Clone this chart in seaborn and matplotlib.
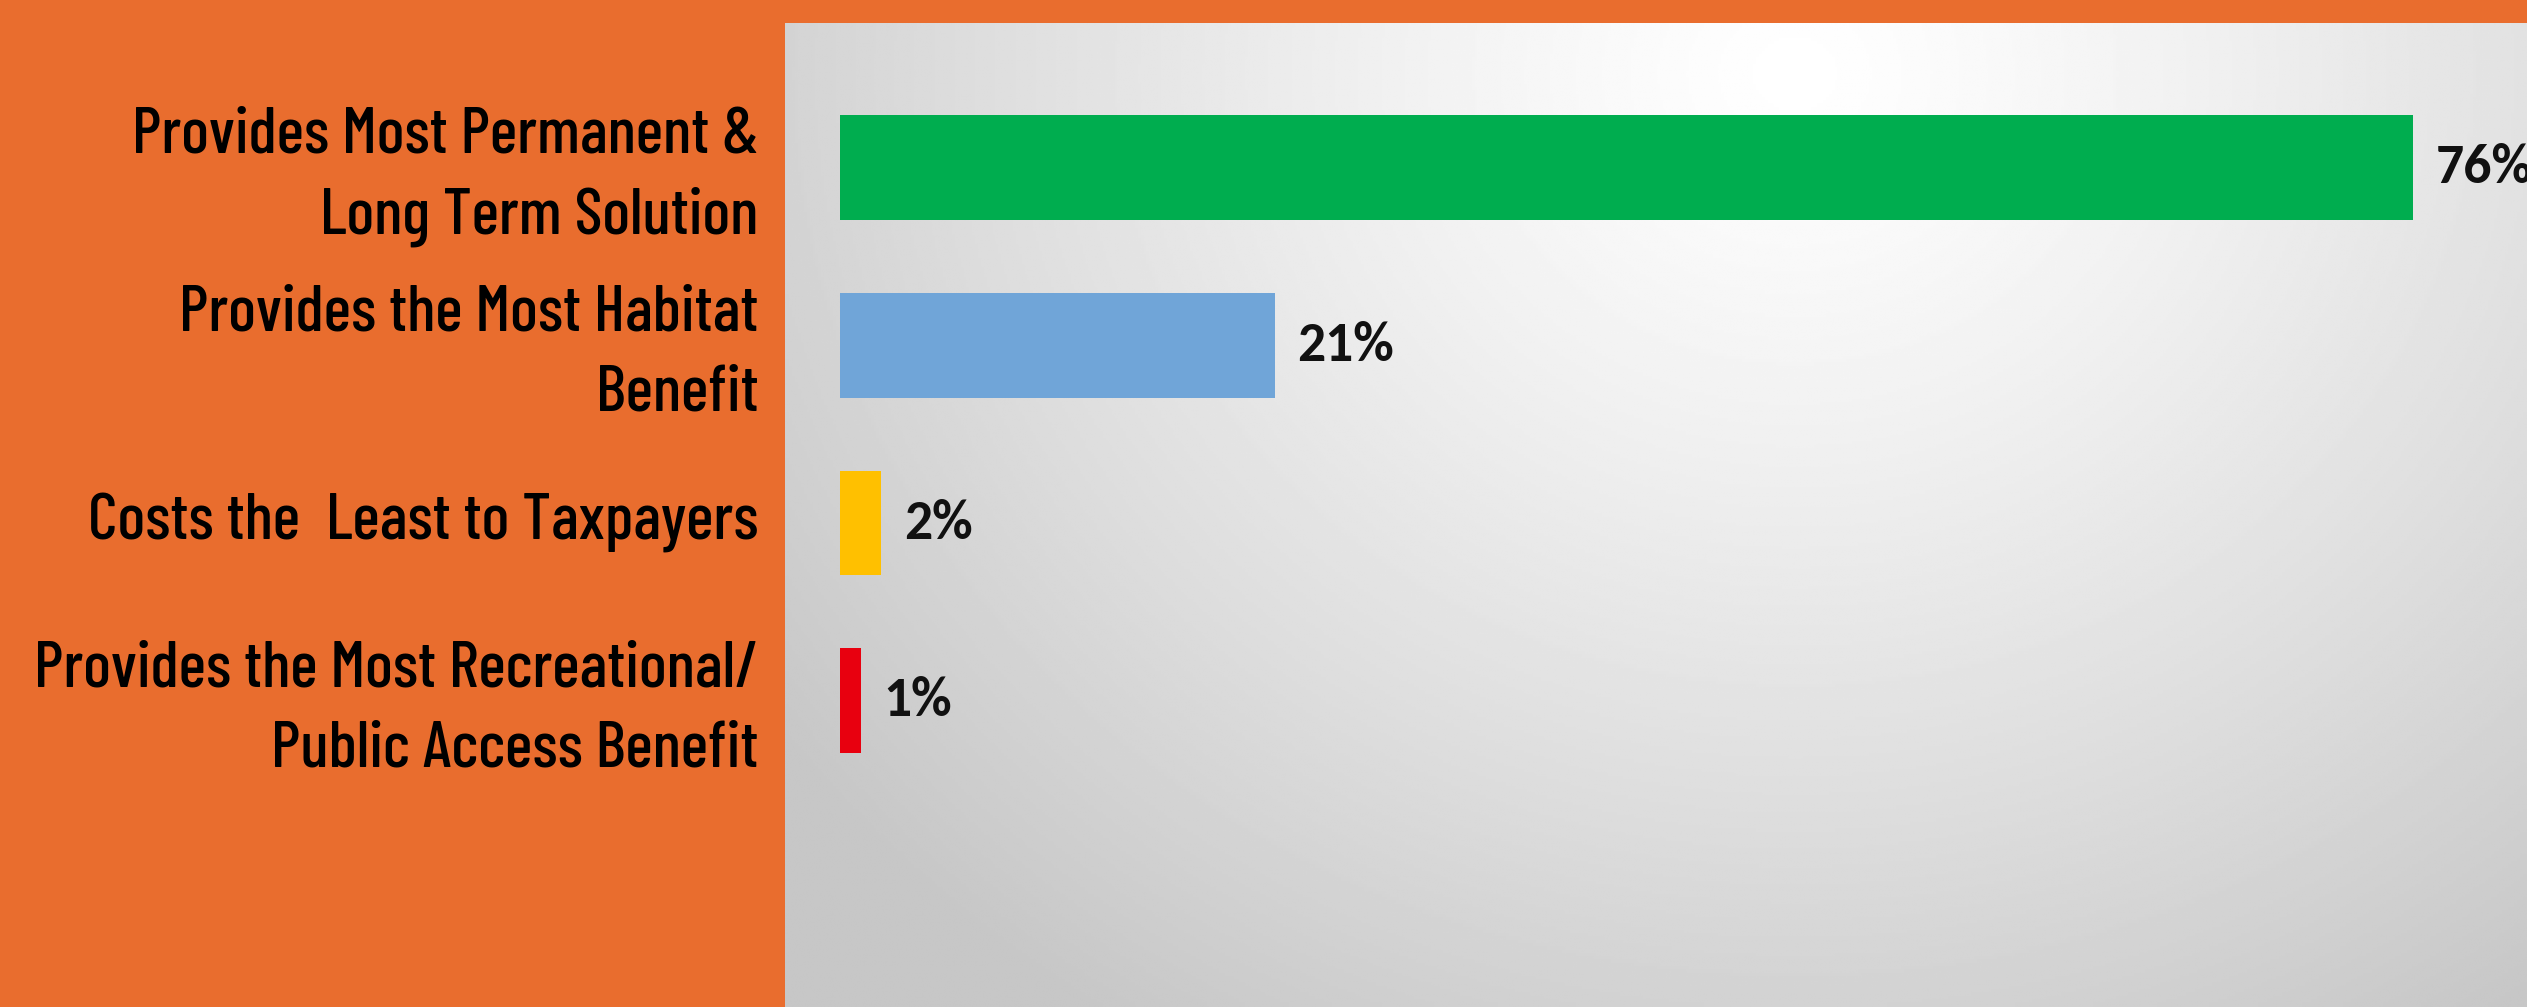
import numpy as np
import pandas as pd
import matplotlib.pyplot as plt
import matplotlib.transforms as mtransforms
import seaborn as sns

# ---- data ----
CATEGORIES = [
    'Provides Most Permanent &\nLong Term Solution',
    'Provides the Most Habitat\nBenefit',
    'Costs the  Least to Taxpayers',
    'Provides the Most Recreational/\nPublic Access Benefit',
]
VALUES = [76, 21, 2, 1]
BAR_COLORS = ['#00AD4F', '#70A5D8', '#FFC000', '#E8000F']

ORANGE = '#E96D2E'
LABEL_FONT = ['Barlow Condensed', 'Roboto Condensed', 'DejaVu Sans']
PCT_FONT = ['Carlito', 'Open Sans', 'DejaVu Sans']

sns.set_theme(style='white')
plt.rcParams['font.family'] = LABEL_FONT

df = pd.DataFrame({'label': CATEGORIES, 'value': VALUES})

W, H = 2527, 1007
fig = plt.figure(figsize=(W / 100, H / 100), dpi=100, facecolor=ORANGE)
ax = fig.add_axes([785 / W, 0, 1 - 785 / W, (H - 23) / H])

# soft grey panel with a light spot near the top
yy, xx = np.mgrid[0:1:300j, 0:1:600j]
r = np.sqrt(((xx - 0.58) / 0.72) ** 2 + ((yy - 0.95) / 1.15) ** 2)
panel = 1.0 - 0.22 * np.clip(r, 0, 1) ** 1.2
ax.imshow(panel, extent=[0, 1, 0, 1], transform=ax.transAxes, cmap='gray',
          vmin=0, vmax=1, aspect='auto', zorder=0, origin='lower')

sns.barplot(data=df, y='label', x='value', hue='label', palette=BAR_COLORS,
            width=0.59, orient='h', legend=False, ax=ax, saturation=1,
            linewidth=0, zorder=2)

for cont, v in zip(ax.containers, VALUES):
    ax.bar_label(cont, labels=[f'{v}%'], padding=16, fontsize=40,
                 fontweight='bold', family=PCT_FONT, color='#111111')

ax.set_xlim(-2.66, 81.5)
ax.set_ylim(4.72, -0.81)
ax.set_xticks([])
ax.set_xlabel('')
ax.set_ylabel('')
ax.tick_params(axis='y', length=0, pad=19, labelsize=47)
lift = mtransforms.ScaledTranslation(0, 8 / 100, fig.dpi_scale_trans)
for t in ax.get_yticklabels():
    t.set_fontweight('medium')
    t.set_linespacing(1.45)
    t.set_color('black')
    t.set_transform(t.get_transform() + lift)
for s in ax.spines.values():
    s.set_visible(False)

fig.savefig('out.png', dpi=100, facecolor=ORANGE)
